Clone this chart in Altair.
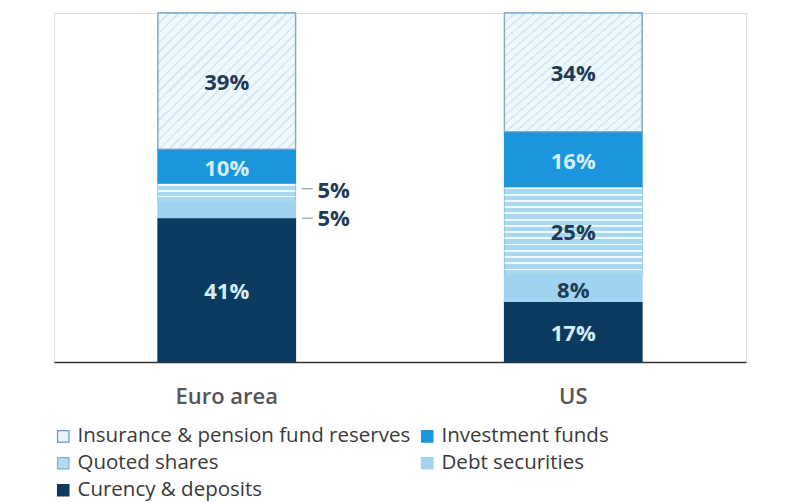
import altair as alt
import pandas as pd

countries = ["Euro area", "US"]
categories = ["Insurance & pension fund reserves", "Investment funds",
              "Quoted shares", "Debt securities", "Curency & deposits"]
euro_values = [39, 10, 5, 5, 41]
us_values = [34, 16, 25, 8, 17]
stack_rank = [4, 3, 2, 1, 0]  # 0 = bottom of the stack
fill_colors = ["#eaf5fb", "#1b96dc", "#b3dcf1", "#9fd3ef", "#0c3b5f"]
stroke_colors = ["#5a9ccb", "#1b96dc", "#6fb6d8", "#9fd3ef", "#0c3b5f"]
# legend is filled column by column: this order gives the reference's rows
legend_order = [0, 2, 4, 1, 3]

rows = []
for country, vals in zip(countries, [euro_values, us_values]):
    for cat, v, r in zip(categories, vals, stack_rank):
        rows.append({"country": country, "category": cat, "value": v,
                     "rank": r, "label": f"{v}%"})
df = pd.DataFrame(rows)

leg_domain = [categories[i] for i in legend_order]
leg_fill = [fill_colors[i] for i in legend_order]
leg_stroke = [stroke_colors[i] for i in legend_order]


def stripes(n, line, bg, frac, x2, y2):
    stops = []
    for k in range(n):
        a = k / n
        b = (k + frac) / n
        c = (k + 1) / n
        stops += [alt.GradientStop(offset=a, color=line),
                  alt.GradientStop(offset=b, color=line),
                  alt.GradientStop(offset=b, color=bg),
                  alt.GradientStop(offset=c, color=bg)]
    return alt.LinearGradient(gradient="linear", stops=stops,
                              x1=0, y1=0, x2=x2, y2=y2)


hatch = stripes(28, "#d4e9f4", "#eff8fc", 0.25, 1, 1)
brick_eu = stripes(3, "#eef8fd", "#a9d8ef", 0.3, 0, 1)
brick_us = stripes(14, "#eef8fd", "#a9d8ef", 0.3, 0, 1)

x_enc = alt.X("country:N", sort=countries,
              scale=alt.Scale(paddingInner=0.603, paddingOuter=0.3),
              axis=alt.Axis(title=None, labelAngle=0, labelFont="Open Sans",
                            labelFontSize=22, labelFontWeight=600,
                            labelColor="#555555",
                            labelPadding=24, ticks=False, domainColor="#333333",
                            domainWidth=1.5, grid=False))
y_enc = alt.Y("y0:Q", scale=alt.Scale(domain=[0, 100], nice=False), axis=None)

base = alt.Chart(df).transform_stack(
    stack="value", groupby=["country"], as_=["y0", "y1"],
    sort=[alt.SortField("rank", order="ascending")]
).transform_calculate(mid="(datum.y0 + datum.y1) / 2")

legend = alt.Legend(title=None, orient="none", legendX=-1, legendY=413,
                    columns=2, symbolType="square", symbolSize=130,
                    symbolStrokeWidth=1.2, labelFont="Open Sans",
                    labelFontSize=20.5, labelColor="#3a3a3a", rowPadding=6,
                    columnPadding=6, labelLimit=0, symbolOffset=0)

bars = base.mark_bar(strokeWidth=1.2).encode(
    x=x_enc, y=y_enc, y2="y1:Q",
    fill=alt.Fill("category:N",
                  scale=alt.Scale(domain=leg_domain, range=leg_fill),
                  legend=legend),
    stroke=alt.Stroke("category:N",
                      scale=alt.Scale(domain=leg_domain, range=leg_stroke),
                      legend=legend),
)

ins = base.transform_filter(
    alt.datum.category == categories[0]
).mark_bar(fill=hatch, stroke="#86a8c2", strokeWidth=1.3).encode(
    x=x_enc, y=y_enc, y2="y1:Q")

q_eu = base.transform_filter(
    (alt.datum.category == categories[2]) & (alt.datum.country == countries[0])
).mark_bar(fill=brick_eu).encode(x=x_enc, y=y_enc, y2="y1:Q")

q_us = base.transform_filter(
    (alt.datum.category == categories[2]) & (alt.datum.country == countries[1])
).mark_bar(fill=brick_us).encode(x=x_enc, y=y_enc, y2="y1:Q")

inside = base.transform_filter(
    ~((alt.datum.country == countries[0]) &
      ((alt.datum.category == categories[2]) | (alt.datum.category == categories[3])))
).mark_text(font="Open Sans", fontWeight="bold", fontSize=22,
            baseline="middle", dy=2).encode(
    x=x_enc,
    y=alt.Y("mid:Q", scale=alt.Scale(domain=[0, 100], nice=False), axis=None),
    text="label:N",
    color=alt.condition(
        (alt.datum.category == categories[1]) | (alt.datum.category == categories[4]),
        alt.value("#d4eefa"), alt.value("#1e3a55")),
)


def outside(cat, dy, ry):
    sub = base.transform_filter(
        (alt.datum.country == countries[0]) & (alt.datum.category == cat))
    y_mid = alt.Y("mid:Q", scale=alt.Scale(domain=[0, 100], nice=False), axis=None)
    txt = sub.mark_text(font="Open Sans", fontWeight="bold", fontSize=22,
                        baseline="middle", align="center", dx=107, dy=dy,
                        color="#1e3a55").encode(x=x_enc, y=y_mid, text="label:N")
    lead = sub.mark_rule(xOffset=75, x2Offset=86, yOffset=ry, color="#9a9a9a",
                         strokeWidth=1.2).encode(x=x_enc, x2="country:N", y=y_mid)
    return txt + lead


chart = alt.layer(
    bars, ins, q_eu, q_us, inside,
    outside(categories[2], -2, -4), outside(categories[3], 9, 8)
).properties(
    width=692, height=349,
    padding={"left": 45, "top": 4, "right": 5, "bottom": 5},
).configure_view(stroke=None).configure(background="white")

chart.save("out.html", embed_options={"renderer": "svg", "actions": False})
